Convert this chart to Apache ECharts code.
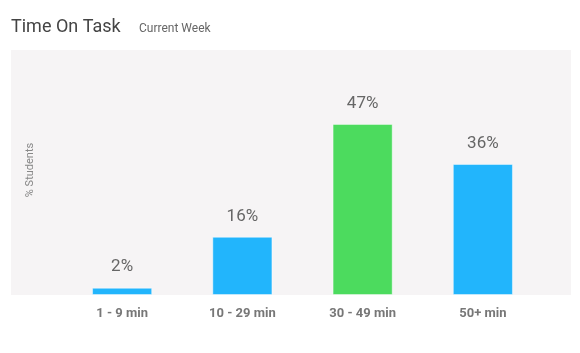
<!DOCTYPE html>
<html>
<head>
<meta charset="utf-8">
<script src="https://cdn.jsdelivr.net/npm/echarts@6/dist/echarts.min.js"></script>
<style>
  html, body { margin: 0; padding: 0; background: #fff; }
  #main { width: 580px; height: 353px; }
</style>
</head>
<body>
<div id="main"></div>
<script>
var categories = ['1 - 9 min', '10 - 29 min', '30 - 49 min', '50+ min'];
var values = [2, 16, 47, 36];
var barColors = ['#22B5FC', '#22B5FC', '#4CDB5E', '#22B5FC'];

var chart = echarts.init(document.getElementById('main'));

var option = {
    backgroundColor: '#fff',
    title: [{
        text: 'Time On Task',
        left: 6, top: 13,
        textStyle: { fontFamily: 'Roboto', fontSize: 18, fontWeight: 'normal', color: '#444' }
    }, {
        text: 'Current Week',
        left: 134, top: 18,
        textStyle: { fontFamily: 'Roboto', fontSize: 12, fontWeight: 'normal', color: '#666' }
    }],
    graphic: [{
        type: 'rect', z: -10,
        shape: { x: 11, y: 50, width: 560, height: 245 },
        style: { fill: '#F6F4F5' }
    }, {
        type: 'text',
        x: 30, y: 170, rotation: Math.PI / 2,
        style: {
            text: '% Students', fill: '#888', fontFamily: 'Roboto', fontSize: 11,
            align: 'center', verticalAlign: 'middle'
        }
    }],
    grid: { left: 62, top: 50, width: 481, height: 245 },
    xAxis: {
        type: 'category',
        data: categories,
        axisLine: { show: false },
        axisTick: { show: false },
        axisLabel: { fontFamily: 'Roboto', fontSize: 13, fontWeight: 'bold', color: '#777', margin: 12 }
    },
    yAxis: {
        type: 'value', min: 0, max: 67.3,
        show: false
    },
    series: [{
        type: 'bar',
        barWidth: '50%',
        data: values.map(function (v, i) {
            return { value: v, itemStyle: { color: barColors[i] } };
        }),
        itemStyle: { borderColor: 'rgba(255,255,255,0.45)', borderWidth: 1 },
        label: {
            show: true, position: 'top', distance: 12,
            formatter: '{c}%',
            fontFamily: 'Roboto', fontSize: 17, color: '#666'
        }
    }]
};
chart.setOption(option);
</script>
</body>
</html>
